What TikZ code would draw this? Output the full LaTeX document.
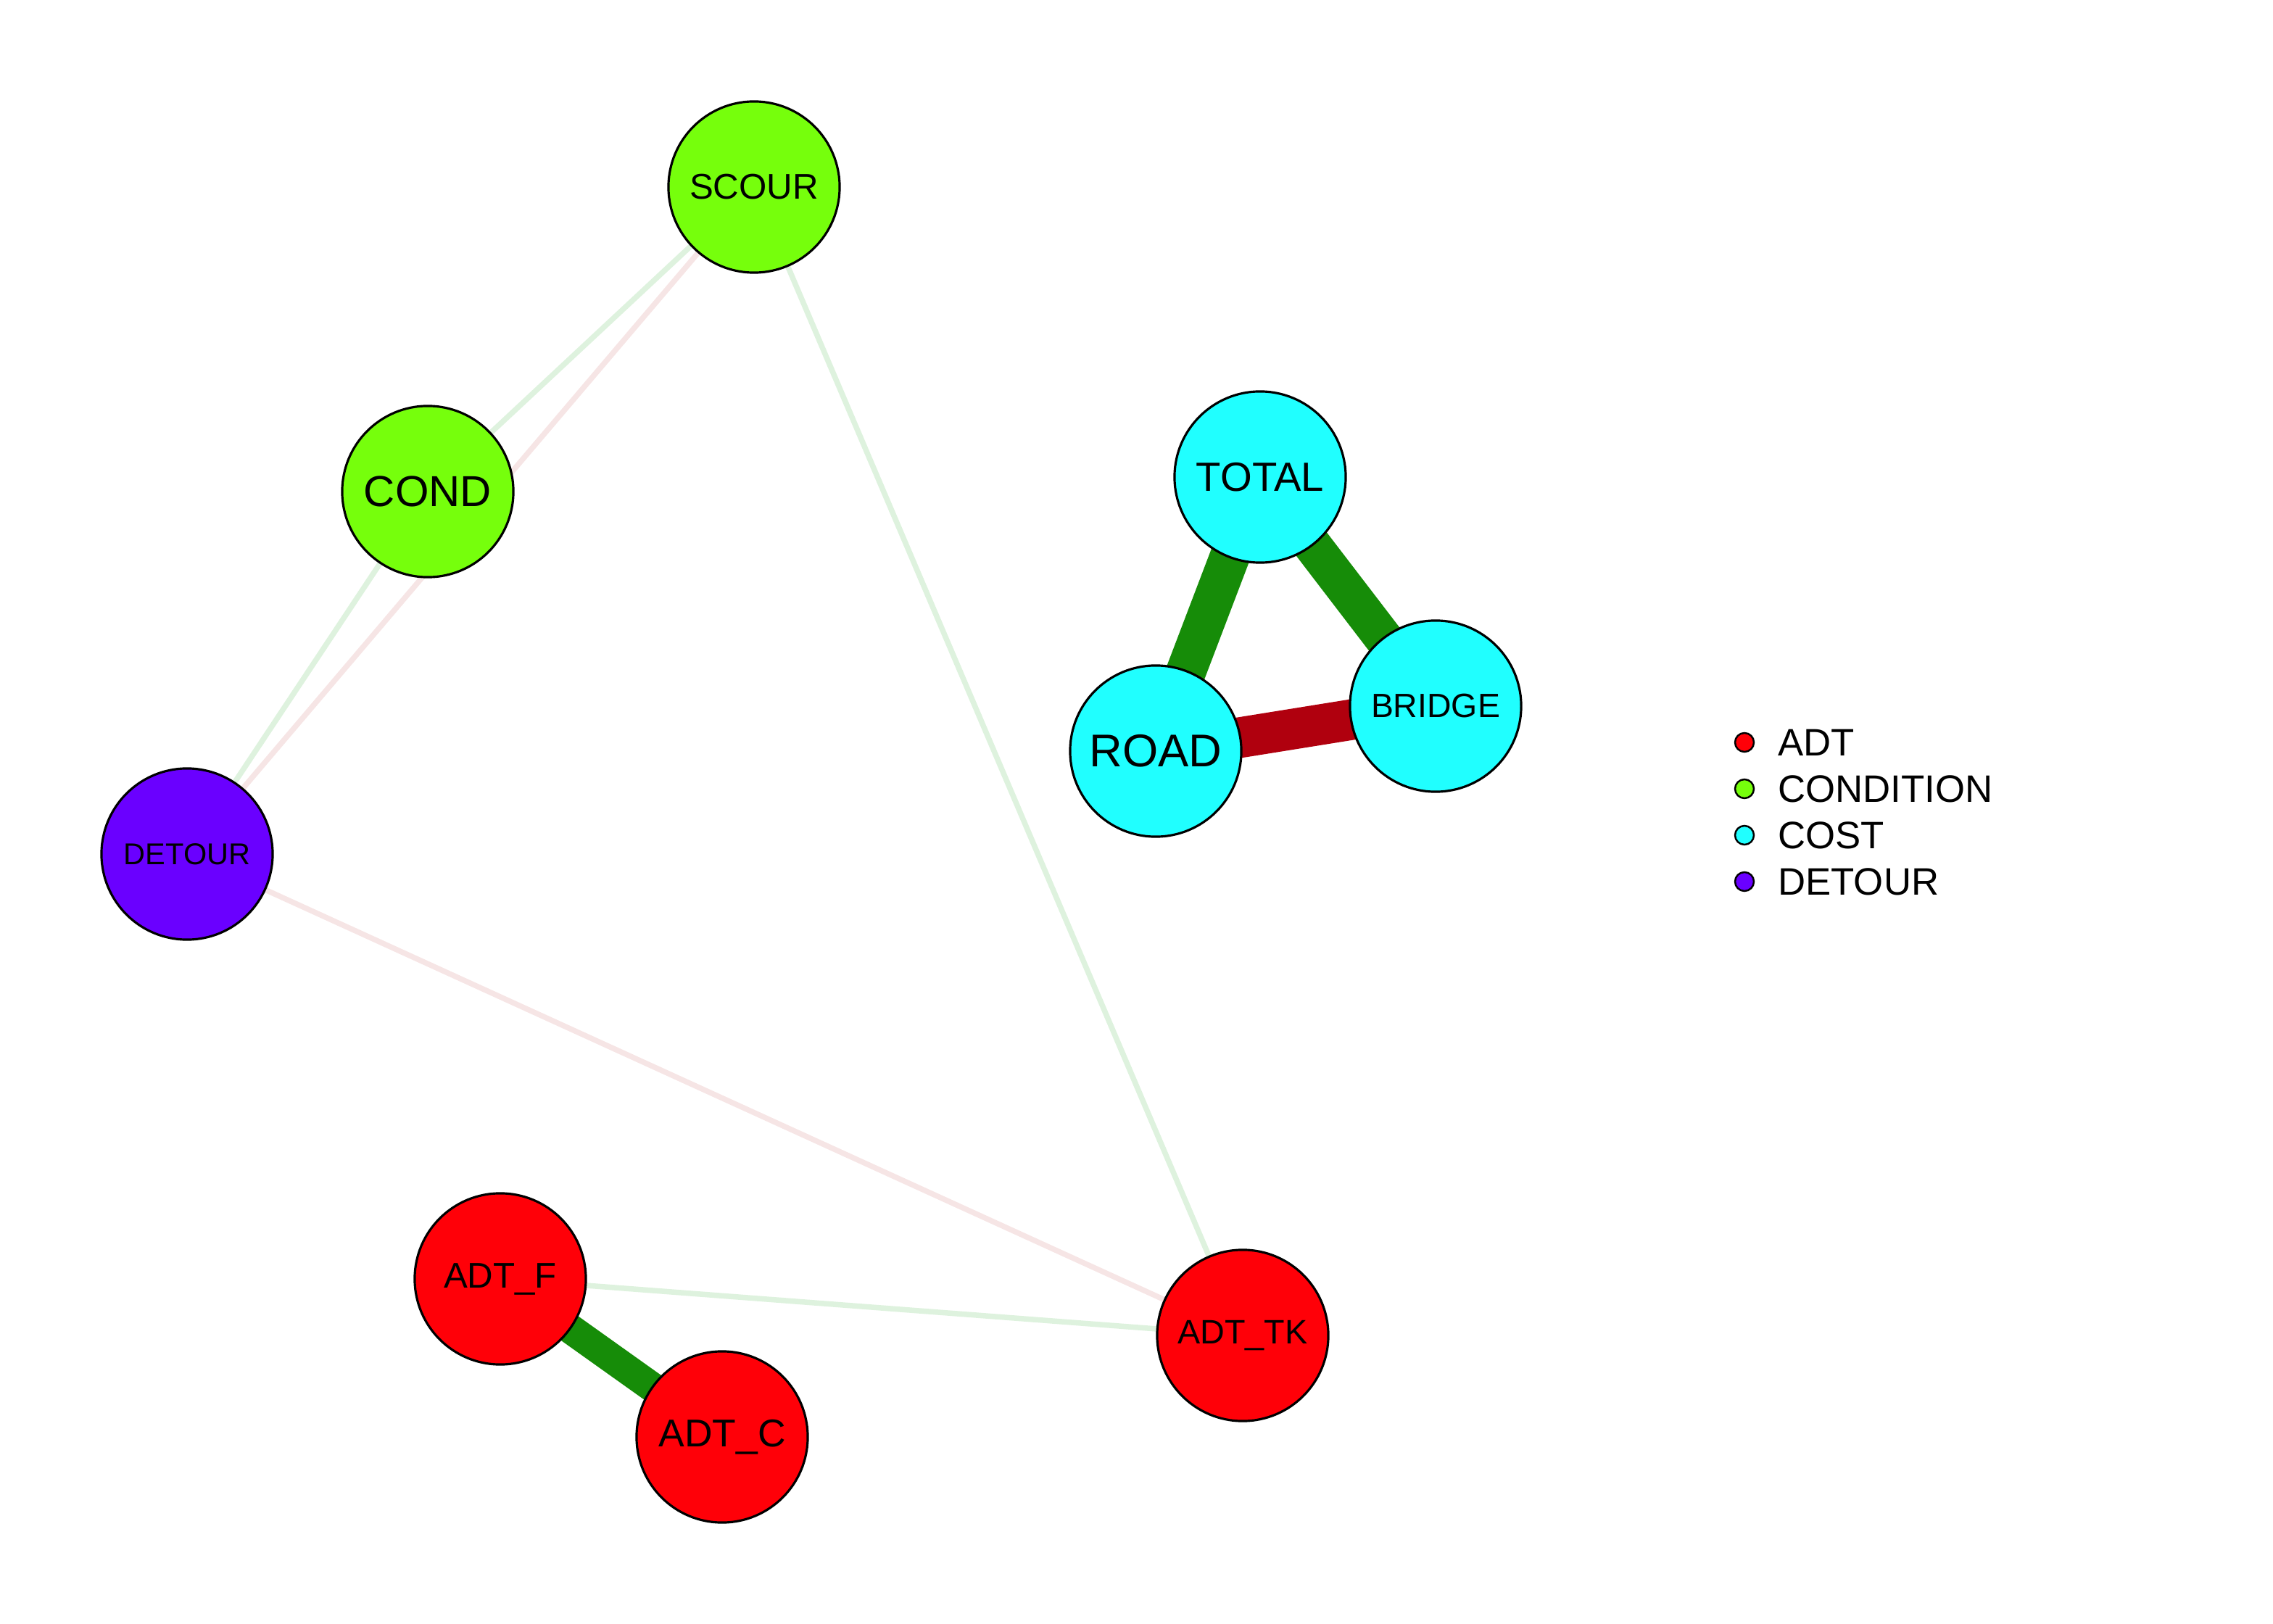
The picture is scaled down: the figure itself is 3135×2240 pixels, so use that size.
\documentclass[tikz,border=0pt]{standalone}
\usepackage{fontspec}
\setmainfont{Liberation Sans}
\usetikzlibrary{backgrounds}

\definecolor{adtcol}{RGB}{255,0,8}
\definecolor{condcol}{RGB}{118,255,12}
\definecolor{costcol}{RGB}{32,255,255}
\definecolor{detcol}{RGB}{106,0,255}
\definecolor{posgreen}{RGB}{22,140,8}
\definecolor{negred}{RGB}{176,0,14}
\definecolor{palegreen}{RGB}{222,242,222}
\definecolor{palered}{RGB}{246,229,229}

\begin{document}
\begin{tikzpicture}[x=0.01cm,y=-0.01cm,
    vertex/.style={circle,draw=black,line width=0.9pt,minimum size=2.36cm,inner sep=0pt},
    fs/.style={font=\fontsize{#1}{#1}\selectfont},
    pos/.style={posgreen,line width=#1},
    neg/.style={negred,line width=#1},
    weakpos/.style={palegreen,line width=0.075cm},
    weakneg/.style={palered,line width=0.075cm},
    dot/.style={circle,draw=black,line width=0.7pt,minimum size=0.26cm,inner sep=0pt},
    keytext/.style={anchor=west,fs=15pt}]
    \useasboundingbox (0,0) rectangle (3135,2240);
    % variables
    \node[vertex,fill=condcol,fs=14pt] (scour) at (1040,258) {SCOUR};
    \node[vertex,fill=condcol,fs=17pt] (cond) at (590,678) {COND};
    \node[vertex,fill=detcol,fs=11.8pt] (detour) at (258,1178) {DETOUR};
    \node[vertex,fill=costcol,fs=16pt] (total) at (1738,658) {TOTAL};
    \node[vertex,fill=costcol,fs=18pt] (road) at (1594,1036) {ROAD};
    \node[vertex,fill=costcol,fs=13.2pt] (bridge) at (1980,974) {BRIDGE};
    \node[vertex,fill=adtcol,fs=14pt] (adtf) at (690,1764) {ADT\_F};
    \node[vertex,fill=adtcol,fs=15.2pt] (adtc) at (996,1982) {ADT\_C};
    \node[vertex,fill=adtcol,fs=13.3pt] (adttk) at (1714,1842) {ADT\_TK};
    % edges go behind the circles
    \begin{scope}[on background layer]
        \draw[weakpos] (scour.center) -- (cond.center);
        \draw[weakneg] (scour.center) -- (detour.center);
        \draw[weakpos] (cond.center) -- (detour.center);
        \draw[weakpos] (scour.center) -- (adttk.center);
        \draw[weakneg] (detour.center) -- (adttk.center);
        \draw[weakpos] (adtf.center) -- (adttk.center);
        \draw[pos=0.41cm] (adtf.center) -- (adtc.center);
        \draw[pos=0.55cm] (total.center) -- (road.center);
        \draw[pos=0.53cm] (total.center) -- (bridge.center);
        \draw[neg=0.56cm] (road.center) -- (bridge.center);
    \end{scope}
    % legend
    \node[dot,fill=adtcol] (k1) at (2406,1024) {};
    \node[dot,fill=condcol] (k2) at (2406,1088) {};
    \node[dot,fill=costcol] (k3) at (2406,1152) {};
    \node[dot,fill=detcol] (k4) at (2406,1216) {};
    \node[keytext] (t1) at (2440,1024) {ADT};
    \node[keytext] (t2) at (2440,1088) {CONDITION};
    \node[keytext] (t3) at (2440,1152) {COST};
    \node[keytext] (t4) at (2440,1216) {DETOUR};
\end{tikzpicture}
\end{document}
